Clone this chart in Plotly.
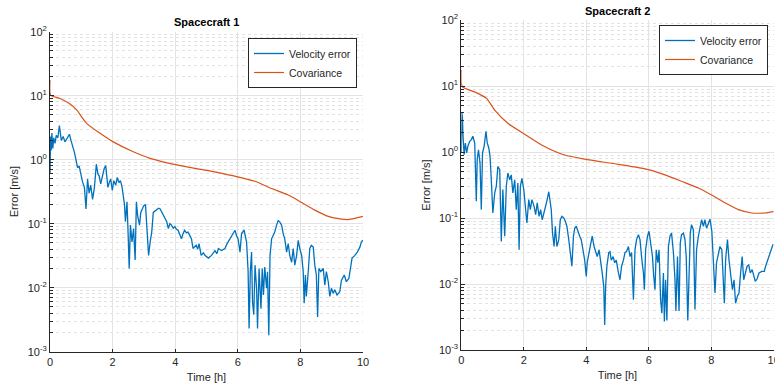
import plotly.graph_objects as go

# ---------------- data ----------------
t1_vel = [0.0, 0.02, 0.04, 0.06, 0.09, 0.12, 0.16, 0.2, 0.25, 0.3, 0.36, 0.42, 0.48, 0.55, 0.62, 0.67,
          0.73, 0.78, 0.83, 0.88, 0.93, 0.98, 1.04, 1.1, 1.15, 1.2, 1.25, 1.3, 1.36, 1.42, 1.48, 1.53,
          1.57, 1.62, 1.68, 1.73, 1.78, 1.85, 1.9, 1.94, 1.99, 2.04, 2.1, 2.15, 2.2, 2.25, 2.3, 2.34,
          2.38, 2.41, 2.46, 2.5, 2.53, 2.57, 2.62, 2.67, 2.72, 2.76, 2.8, 2.86, 2.9, 2.95, 2.99, 3.05,
          3.09, 3.15, 3.2, 3.25, 3.3, 3.36, 3.41, 3.47, 3.52, 3.57, 3.62, 3.68, 3.73, 3.78, 3.83, 3.88,
          3.94, 3.99, 4.04, 4.09, 4.15, 4.2, 4.25, 4.3, 4.36, 4.41, 4.47, 4.52, 4.57, 4.62, 4.67, 4.72,
          4.76, 4.83, 4.9, 4.95, 5.06, 5.16, 5.27, 5.33, 5.38, 5.48, 5.59, 5.65, 5.69, 5.75, 5.8, 5.86,
          5.91, 5.96, 6.01, 6.07, 6.12, 6.2, 6.25, 6.28, 6.33, 6.36, 6.4, 6.44, 6.47, 6.51, 6.55, 6.6,
          6.63, 6.68, 6.74, 6.78, 6.82, 6.86, 6.92, 6.95, 6.99, 7.03, 7.08, 7.13, 7.18, 7.24, 7.29, 7.34,
          7.4, 7.45, 7.5, 7.56, 7.61, 7.66, 7.72, 7.77, 7.82, 7.88, 7.93, 7.98, 8.04, 8.09, 8.12, 8.16,
          8.19, 8.25, 8.3, 8.35, 8.41, 8.46, 8.51, 8.55, 8.59, 8.65, 8.73, 8.78, 8.83, 8.89, 8.94, 8.99,
          9.05, 9.1, 9.17, 9.26, 9.31, 9.4, 9.47, 9.55, 9.61, 9.65, 9.74, 9.82, 9.9, 9.95, 10.0]
vel1 = [0.6, 2.3, 1.4, 2.6, 1.5, 2.2, 1.8, 2.4, 2.2, 3.4, 2.0, 2.3, 1.9, 2.2, 2.5, 2.0,
        1.65, 1.3, 1.0, 0.75, 0.8, 0.6, 0.45, 0.37, 0.17, 0.5, 0.3, 0.4, 0.24, 0.37, 0.85, 0.6,
        0.56, 0.42, 0.6, 0.72, 0.81, 0.37, 0.45, 0.5, 0.33, 0.47, 0.4, 0.53, 0.44, 0.47, 0.38, 0.28,
        0.2, 0.107, 0.22, 0.06, 0.02, 0.095, 0.052, 0.084, 0.027, 0.22, 0.134, 0.095, 0.15, 0.17, 0.19, 0.2,
        0.095, 0.032, 0.052, 0.074, 0.15, 0.16, 0.167, 0.175, 0.17, 0.15, 0.134, 0.12, 0.107, 0.084, 0.1, 0.095,
        0.085, 0.09, 0.082, 0.079, 0.068, 0.058, 0.07, 0.079, 0.072, 0.074, 0.065, 0.058, 0.041, 0.044, 0.046, 0.04,
        0.049, 0.032, 0.035, 0.032, 0.029, 0.032, 0.038, 0.034, 0.041, 0.038, 0.041, 0.048, 0.052, 0.06, 0.066, 0.072,
        0.079, 0.065, 0.058, 0.036, 0.07, 0.079, 0.062, 0.052, 0.0178, 0.0023, 0.0178, 0.036, 0.006, 0.0038, 0.0225, 0.0098,
        0.0023, 0.02, 0.0047, 0.02, 0.0077, 0.021, 0.0098, 0.0178, 0.0018, 0.032, 0.058, 0.066, 0.074, 0.095, 0.112, 0.107,
        0.095, 0.07, 0.058, 0.036, 0.049, 0.032, 0.025, 0.041, 0.0225, 0.032, 0.055, 0.041, 0.032, 0.0178, 0.0057, 0.0158,
        0.0073, 0.0178, 0.041, 0.046, 0.043, 0.0225, 0.0158, 0.0035, 0.02, 0.0178, 0.02, 0.011, 0.0178, 0.0124, 0.0073, 0.0098,
        0.0082, 0.0093, 0.0077, 0.0087, 0.013, 0.0158, 0.0124, 0.014, 0.02, 0.029, 0.032, 0.036, 0.043, 0.052, 0.055]

t1_cov = [0.0, 0.02, 0.3, 0.64, 0.85, 1.17, 1.6, 2.02, 2.66, 3.2, 4.05, 5.0, 6.0, 6.55, 7.08, 7.61,
          8.0, 8.46, 8.89, 9.31, 9.52, 9.74, 10.0]
cov1 = [17.6, 10.2, 9.1, 7.4, 6.0, 3.7, 2.58, 1.9, 1.33, 1.05, 0.83, 0.68, 0.54, 0.46, 0.355, 0.28,
        0.22, 0.163, 0.13, 0.118, 0.116, 0.121, 0.13]

t2_vel = [0.0, 0.02, 0.04, 0.05, 0.09, 0.13, 0.17, 0.21, 0.27, 0.32, 0.37, 0.43, 0.48, 0.51, 0.55, 0.6,
          0.64, 0.68, 0.73, 0.79, 0.83, 0.88, 0.92, 0.96, 1.01, 1.07, 1.12, 1.17, 1.23, 1.28, 1.33, 1.39,
          1.44, 1.49, 1.55, 1.6, 1.65, 1.71, 1.76, 1.81, 1.85, 1.89, 1.94, 2.0, 2.05, 2.1, 2.16, 2.21,
          2.26, 2.33, 2.38, 2.43, 2.49, 2.54, 2.59, 2.65, 2.7, 2.75, 2.8, 2.84, 2.88, 2.92, 2.97, 3.01,
          3.06, 3.12, 3.17, 3.22, 3.28, 3.33, 3.38, 3.44, 3.49, 3.54, 3.59, 3.63, 3.68, 3.74, 3.79, 3.84,
          3.9, 3.95, 4.0, 4.03, 4.09, 4.14, 4.19, 4.25, 4.3, 4.35, 4.41, 4.46, 4.51, 4.56, 4.59, 4.62,
          4.66, 4.72, 4.76, 4.8, 4.86, 4.91, 4.96, 5.03, 5.08, 5.13, 5.19, 5.24, 5.29, 5.35, 5.4, 5.45,
          5.51, 5.56, 5.61, 5.67, 5.72, 5.77, 5.83, 5.86, 5.9, 5.96, 6.01, 6.06, 6.12, 6.16, 6.2, 6.24,
          6.29, 6.33, 6.38, 6.42, 6.47, 6.5, 6.54, 6.58, 6.63, 6.68, 6.73, 6.79, 6.84, 6.87, 6.92, 6.97,
          7.01, 7.05, 7.11, 7.16, 7.2, 7.25, 7.29, 7.33, 7.37, 7.43, 7.48, 7.53, 7.59, 7.64, 7.69, 7.75,
          7.8, 7.85, 7.91, 7.96, 8.02, 8.07, 8.12, 8.17, 8.23, 8.28, 8.34, 8.38, 8.42, 8.46, 8.52, 8.57,
          8.62, 8.68, 8.73, 8.78, 8.84, 8.89, 8.94, 8.99, 9.04, 9.09, 9.15, 9.2, 9.25, 9.31, 9.36, 9.41,
          9.47, 9.53, 9.62, 9.7, 9.74, 9.81, 9.86, 9.91, 9.98]
vel2 = [1.0, 3.9, 3.1, 1.94, 0.91, 1.37, 0.97, 1.22, 1.45, 1.54, 1.73, 1.37, 0.18, 0.77, 1.08, 0.68,
        0.134, 0.97, 1.22, 2.06, 1.37, 1.15, 0.86, 0.38, 0.119, 0.24, 0.3, 0.6, 0.54, 0.044, 0.27, 0.053,
        0.3, 0.48, 0.38, 0.45, 0.24, 0.38, 0.134, 0.34, 0.033, 0.3, 0.4, 0.27, 0.15, 0.084, 0.19, 0.134,
        0.19, 0.15, 0.112, 0.17, 0.106, 0.134, 0.094, 0.119, 0.15, 0.19, 0.25, 0.19, 0.134, 0.059, 0.037, 0.075,
        0.037, 0.047, 0.094, 0.106, 0.1, 0.089, 0.075, 0.047, 0.03, 0.0186, 0.053, 0.07, 0.075, 0.059, 0.053, 0.047,
        0.033, 0.023, 0.013, 0.021, 0.03, 0.042, 0.053, 0.037, 0.03, 0.026, 0.033, 0.023, 0.0147, 0.0092, 0.0024, 0.0092,
        0.0186, 0.03, 0.031, 0.023, 0.026, 0.021, 0.023, 0.0147, 0.0116, 0.0186, 0.023, 0.03, 0.031, 0.037, 0.026, 0.03,
        0.0058, 0.033, 0.047, 0.056, 0.047, 0.026, 0.0147, 0.0082, 0.033, 0.053, 0.063, 0.042, 0.026, 0.013, 0.0082, 0.033,
        0.021, 0.033, 0.0058, 0.0036, 0.0147, 0.0027, 0.0116, 0.0028, 0.037, 0.053, 0.059, 0.03, 0.0116, 0.0039, 0.026, 0.0039,
        0.042, 0.056, 0.059, 0.047, 0.026, 0.0028, 0.023, 0.059, 0.079, 0.066, 0.0041, 0.033, 0.053, 0.075, 0.094, 0.075,
        0.094, 0.07, 0.084, 0.096, 0.063, 0.026, 0.0073, 0.021, 0.03, 0.037, 0.033, 0.0147, 0.0051, 0.023, 0.047, 0.023,
        0.0147, 0.0082, 0.0116, 0.0051, 0.0066, 0.0073, 0.0147, 0.026, 0.0116, 0.0147, 0.0186, 0.0195, 0.0147, 0.0165, 0.013, 0.011,
        0.012, 0.0147, 0.0155, 0.0155, 0.0186, 0.023, 0.026, 0.031, 0.04]

t2_cov = [0.0, 0.03, 0.44, 0.81, 1.07, 1.5, 1.98, 2.57, 3.31, 3.95, 5.02, 5.99, 6.52, 7.05, 7.59, 8.0,
          8.44, 8.87, 9.3, 9.51, 9.72, 10.0]
cov2 = [17.5, 9.8, 8.1, 6.5, 4.3, 2.7, 1.92, 1.28, 0.9, 0.78, 0.65, 0.54, 0.45, 0.36, 0.285, 0.225,
        0.17, 0.134, 0.119, 0.118, 0.119, 0.126]

titles = ["Spacecraft 1", "Spacecraft 2"]
series_names = ["Velocity error", "Covariance"]
x_ticks = [0, 2, 4, 6, 8, 10]
y_ticks = [1e-3, 1e-2, 1e-1, 1e0, 1e1, 1e2]
y_ticktext = ["10<sup>-3</sup>", "10<sup>-2</sup>", "10<sup>-1</sup>", "10<sup>0</sup>",
              "10<sup>1</sup>", "10<sup>2</sup>"]
y_minor = [m * 10.0 ** e for e in range(-3, 2) for m in range(2, 10)]

# ---------------- styling ----------------
W, H = 775, 388
BLUE = "#0072BD"
ORANGE = "#D95319"
FONT = "Liberation Sans, Arial, sans-serif"
TXT = "#262626"


def px_x(p):
    return p / W


def px_y(p):
    return 1 - p / H


fig = go.Figure()

panels = [
    dict(t_vel=t1_vel, vel=vel1, t_cov=t1_cov, cov=cov1, xa="x", ya="y", leg="legend",
         xdom=[px_x(50), px_x(363)], ydom=[px_y(351.7), px_y(31.7)]),
    dict(t_vel=t2_vel, vel=vel2, t_cov=t2_cov, cov=cov2, xa="x2", ya="y2", leg="legend2",
         xdom=[px_x(461.3), px_x(773.7)], ydom=[px_y(350), px_y(20)]),
]

for p in panels:
    fig.add_trace(go.Scatter(x=p["t_vel"], y=p["vel"], mode="lines", name=series_names[0],
                             line=dict(color=BLUE, width=1.3), xaxis=p["xa"], yaxis=p["ya"],
                             legend=p["leg"]))
    fig.add_trace(go.Scatter(x=p["t_cov"], y=p["cov"], mode="lines", name=series_names[1],
                             line=dict(color=ORANGE, width=1.2, shape="spline", smoothing=0.6),
                             xaxis=p["xa"], yaxis=p["ya"], legend=p["leg"]))


def xaxis_cfg(dom, anchor):
    return dict(domain=dom, anchor=anchor, range=[0, 10], tickvals=x_ticks, automargin=False,
                ticklabeloverflow="allow",
                ticks="inside", ticklen=3, tickcolor=TXT, showline=True, linecolor=TXT, linewidth=1,
                showgrid=True, gridcolor="#e3e3e3", gridwidth=1, zeroline=False,
                tickfont=dict(family=FONT, size=11, color=TXT),
                title=dict(text="Time [h]", font=dict(family=FONT, size=11, color=TXT), standoff=6))


def yaxis_cfg(dom, anchor):
    return dict(domain=dom, anchor=anchor, type="log", range=[-3, 2], tickmode="array",
                tickvals=y_ticks, ticktext=y_ticktext, automargin=False,
                ticks="inside", ticklen=4, tickcolor=TXT, showline=True, linecolor=TXT, linewidth=1,
                showgrid=True, gridcolor="#e3e3e3", gridwidth=1, zeroline=False,
                tickfont=dict(family=FONT, size=11, color=TXT),
                minor=dict(tickmode="array", tickvals=y_minor, ticks="inside", ticklen=2.5,
                           tickcolor=TXT, showgrid=True, gridcolor="#e2e2e2", griddash="dot",
                           gridwidth=1),
                title=dict(text="Error [m/s]", font=dict(family=FONT, size=11, color=TXT), standoff=6))


fig.update_layout(
    template="none",
    width=W, height=H, margin=dict(l=0, r=0, t=0, b=0, autoexpand=False),
    paper_bgcolor="white", plot_bgcolor="white",
    xaxis=xaxis_cfg(panels[0]["xdom"], "y"),
    yaxis=yaxis_cfg(panels[0]["ydom"], "x"),
    xaxis2=xaxis_cfg(panels[1]["xdom"], "y2"),
    yaxis2=yaxis_cfg(panels[1]["ydom"], "x2"),
    legend=dict(x=px_x(357), y=px_y(38), xanchor="right", yanchor="top",
                bgcolor="white", bordercolor=TXT, borderwidth=1, itemwidth=30,
                font=dict(family=FONT, size=10.5, color=TXT), tracegroupgap=0),
    legend2=dict(x=px_x(768), y=px_y(25), xanchor="right", yanchor="top",
                 bgcolor="white", bordercolor=TXT, borderwidth=1, itemwidth=30,
                 font=dict(family=FONT, size=10.5, color=TXT), tracegroupgap=0),
    annotations=[
        dict(text="<b>" + titles[0] + "</b>", x=sum(panels[0]["xdom"]) / 2, y=px_y(21.7),
             xref="paper", yref="paper", xanchor="center", yanchor="middle", showarrow=False,
             font=dict(family=FONT, size=11, color="black")),
        dict(text="<b>" + titles[1] + "</b>", x=sum(panels[1]["xdom"]) / 2, y=px_y(11),
             xref="paper", yref="paper", xanchor="center", yanchor="middle", showarrow=False,
             font=dict(family=FONT, size=11, color="black")),
    ],
)

# remove the page's default 8px body margin so the figure sits at the window origin
fig.write_html("out.html", config={"displayModeBar": False},
               post_script="document.body.style.margin='0';document.body.style.overflow='hidden';")
